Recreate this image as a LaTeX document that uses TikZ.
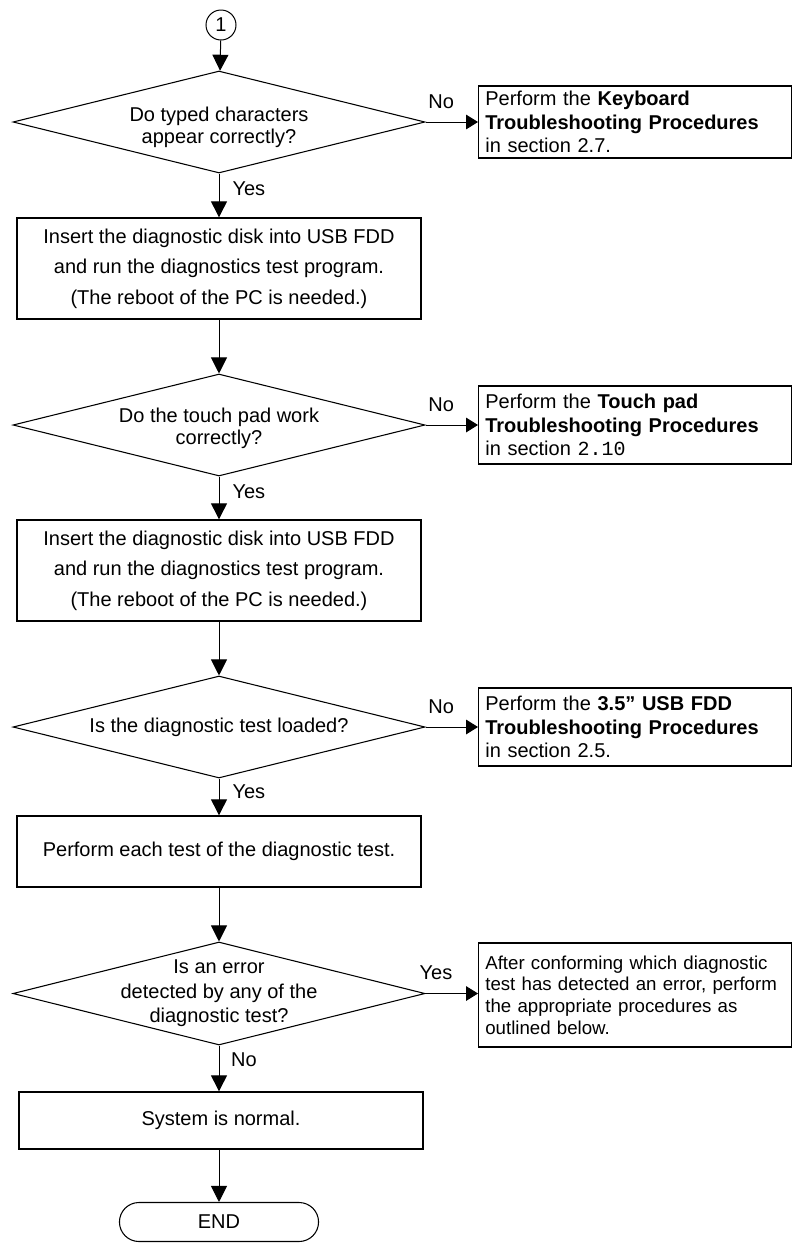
\documentclass[tikz,border=0pt]{standalone}
\usepackage{fontspec}
\setmainfont{Liberation Sans}
\setmonofont{Liberation Mono}
\usetikzlibrary{shapes.geometric,shapes.misc,arrows.meta}

\tikzset{every picture/.style={line width=0.75pt}}
\tikzset{
  decision/.style={draw, diamond, inner sep=0pt, minimum width=309pt, minimum height=76.5pt, line width=0.8pt},
  procbox/.style={draw, rectangle, minimum width=303pt, align=center, font=\fontsize{15}{23}\selectfont, line width=1pt},
  notebox/.style={draw, rectangle, anchor=west, inner xsep=5pt, text width=224.75pt, align=left, font=\fontsize{15}{17.5}\selectfont, line width=1pt},
  qtext/.style={align=center, font=\fontsize{15}{16.5}\selectfont},
  lbl/.style={font=\fontsize{15}{17}\selectfont, inner sep=0.75pt},
  arr/.style={-{Triangle[length=12pt,width=12pt]}},
  sidearr/.style={-{Triangle[length=9pt,width=11pt]}},
}

\begin{document}
\begin{tikzpicture}[x=0.75pt,y=0.75pt,yscale=-1,xscale=1]
\useasboundingbox (0,0) rectangle (793,1243);

% Connector
\node [draw, circle, minimum size=22.5pt, inner sep=0pt, font=\fontsize{15}{17}\selectfont] (start) at (221,25) {1};

% Decision: keyboard
\node [decision] (dKey) at (219,122) {};
\node [qtext] (qKey) at (219,127) {Do typed characters\\appear correctly?};
\node [notebox, minimum height=54pt] (nKey) at (478,122) {Perform the \textbf{Keyboard}\\\textbf{Troubleshooting Procedures}\\in section 2.7.};

% Process: diagnostic disk
\node [procbox, minimum height=75.75pt] (pDiskA) at (219,268.5) {Insert the diagnostic disk into USB FDD\\and run the diagnostics test program.\\(The reboot of the PC is needed.)};

% Decision: touch pad
\node [decision] (dPad) at (219,425) {};
\node [qtext] (qPad) at (219,428) {Do the touch pad work\\correctly?};
\node [notebox, minimum height=58.5pt] (nPad) at (478,425) {Perform the \textbf{Touch pad}\\\textbf{Troubleshooting Procedures}\\in section \texttt{2.10}};

% Process: diagnostic disk again
\node [procbox, minimum height=75.75pt] (pDiskB) at (219,570.5) {Insert the diagnostic disk into USB FDD\\and run the diagnostics test program.\\(The reboot of the PC is needed.)};

% Decision: test loaded
\node [decision] (dLoad) at (219,727) {};
\node [qtext] (qLoad) at (219,727) {Is the diagnostic test loaded?};
\node [notebox, minimum height=58.5pt] (nFdd) at (478,727) {Perform the \textbf{3.5” USB FDD}\\\textbf{Troubleshooting Procedures}\\in section 2.5.};

% Process: each test
\node [procbox, minimum height=53.25pt] (pTest) at (219,851.5) {Perform each test of the diagnostic test.};

% Decision: error
\node [decision, minimum height=77.25pt] (dErr) at (219,993.5) {};
\node [qtext, font=\fontsize{15}{18.5}\selectfont] (qErr) at (219,993.5) {Is an error\\detected by any of the\\diagnostic test?};
\node [notebox, minimum height=78pt, font=\fontsize{14}{16.3}\selectfont] (nErr) at (478,995) {\hyphenpenalty=10000 After conforming which diagnostic\\test has detected an error, perform\\the appropriate procedures as\\outlined below.\\[14pt]};

% Process: normal
\node [procbox, minimum height=42.75pt] (pOk) at (221,1120.5) {System is normal.};

% Terminal
\node [draw, rounded rectangle, minimum width=156pt, minimum height=29.25pt, line width=0.8pt, font=\fontsize{15}{17}\selectfont] (stop) at (219,1222) {END};

%Straight Lines
\draw [arr] (start) -- (dKey);
\draw [sidearr] (dKey.east) -- (nKey.west) node [lbl, pos=0.3, above=9pt] (noKey) {No};
\draw [arr] (dKey.south) -- (pDiskA.north) node [lbl, pos=0.35, right=9pt] (yesKey) {Yes};
\draw [arr] (pDiskA) -- (dPad);
\draw [sidearr] (dPad.east) -- (nPad.west) node [lbl, pos=0.3, above=9pt] (noPad) {No};
\draw [arr] (dPad.south) -- (pDiskB.north) node [lbl, pos=0.35, right=9pt] (yesPad) {Yes};
\draw [arr] (pDiskB) -- (dLoad);
\draw [sidearr] (dLoad.east) -- (nFdd.west) node [lbl, pos=0.3, above=9pt] (noLoad) {No};
\draw [arr] (dLoad.south) -- (pTest.north) node [lbl, pos=0.35, right=9pt] (yesLoad) {Yes};
\draw [arr] (pTest) -- (dErr);
\draw [sidearr] (dErr.east) -- (dErr.east -| nErr.west) node [lbl, pos=0.2, above=9pt] (yesErr) {Yes};
\draw [arr] (dErr.south) -- (dErr.south |- pOk.north) node [lbl, pos=0.3, right=8pt] (noErr) {No};
\draw [arr] (pOk.south -| stop.north) -- (stop.north);

\end{tikzpicture}
\end{document}
